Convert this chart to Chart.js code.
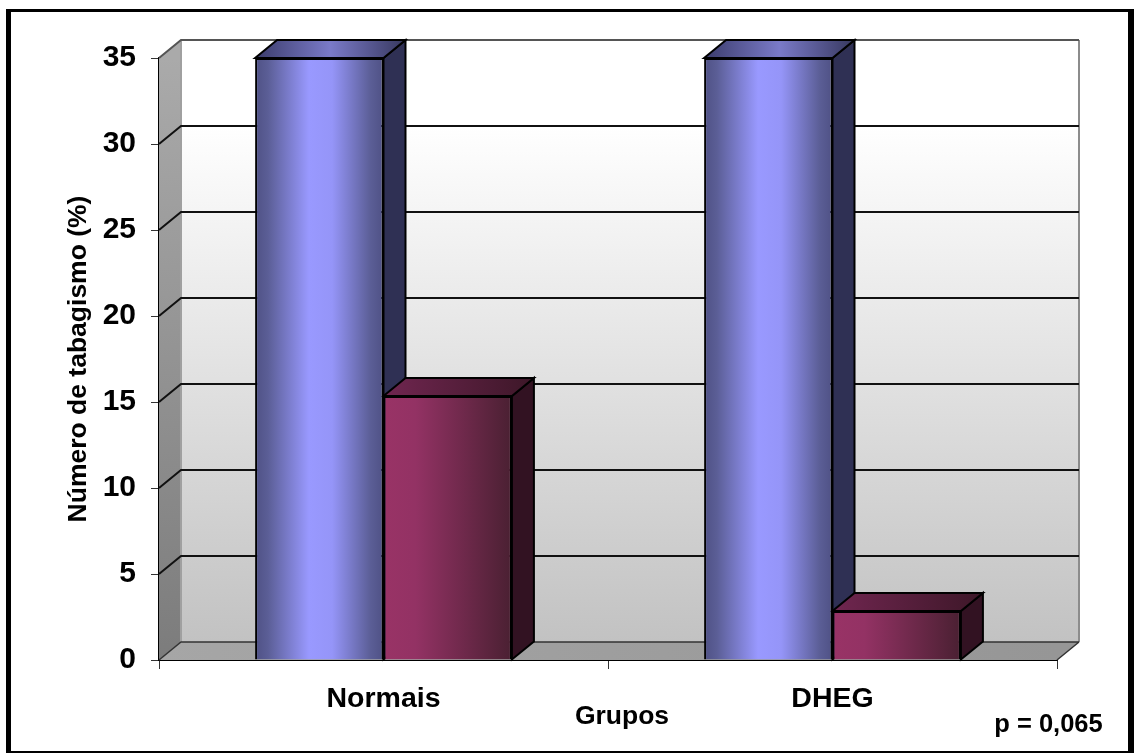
<!DOCTYPE html>
<html>
<head>
<meta charset="utf-8">
<title>Tabagismo</title>
<script src="https://cdn.jsdelivr.net/npm/chart.js@4"></script>
<style>
    body { margin: 0; background: #fff; }
    #wrap { position: relative; width: 1134px; height: 753px; overflow: hidden; }
    canvas { display: block; }
    #frame {
        position: absolute; left: 6px; top: 9px; right: 0; bottom: 0;
        border-style: solid; border-color: #000;
        border-width: 3px 6px 2px 5px;
        pointer-events: none;
    }
</style>
</head>
<body>
<div id="wrap">
    <canvas id="chart" width="1134" height="753"></canvas>
    <div id="frame"></div>
</div>
<script>
const categories = ['Normais', 'DHEG'];
const serie1 = [35, 35];
const serie2 = [15.35, 2.85];
const yTicks = [0, 5, 10, 15, 20, 25, 30, 35];
const yTitle = 'Número de tabagismo (%)';
const xTitle = 'Grupos';
const pText = 'p = 0,065';

const FONT = '"Liberation Sans", Arial, sans-serif';
const catPct = 0.572;
// profondeur du faux effet 3D
const dx = 22;
const dy = 18;

function barEdges(chart, datasetIndex, dataIndex) {
    const x = chart.scales.x;
    const center = x.getPixelForValue(dataIndex);
    const w = x.width / categories.length / 2 * catPct;
    const left = datasetIndex === 0 ? center - w : center;
    return { left: left, right: left + w };
}

function blueFront(ctx) {
    const chart = ctx.chart;
    if (!chart.chartArea) return '#9999ff';
    const e = barEdges(chart, ctx.datasetIndex, ctx.dataIndex);
    const g = chart.ctx.createLinearGradient(e.left, 0, e.right, 0);
    g.addColorStop(0, '#4f5185');
    g.addColorStop(0.1, '#5b5e96');
    g.addColorStop(0.42, '#9999ff');
    g.addColorStop(0.6, '#9595f8');
    g.addColorStop(0.9, '#5b5e96');
    g.addColorStop(1, '#4f5185');
    return g;
}

function redFront(ctx) {
    const chart = ctx.chart;
    if (!chart.chartArea) return '#993366';
    const e = barEdges(chart, ctx.datasetIndex, ctx.dataIndex);
    const g = chart.ctx.createLinearGradient(e.left, 0, e.right, 0);
    g.addColorStop(0, '#993366');
    g.addColorStop(0.25, '#933264');
    g.addColorStop(1, '#4a2032');
    return g;
}

function poly(c, pts, fill, stroke, lw) {
    c.beginPath();
    pts.forEach((p, i) => i ? c.lineTo(p[0], p[1]) : c.moveTo(p[0], p[1]));
    c.closePath();
    if (fill) {
        c.fillStyle = fill;
        c.fill();
    }
    if (stroke) {
        c.strokeStyle = stroke;
        c.lineWidth = lw || 1;
        c.stroke();
    }
}

// murs et sol du graphique, dessinés depuis les échelles
const wallsPlugin = {
    id: 'walls',
    beforeDatasetsDraw(chart) {
        const c = chart.ctx;
        const a = chart.chartArea;
        const y = chart.scales.y;
        c.save();

        const back = c.createLinearGradient(0, a.top - dy, 0, a.bottom - dy);
        back.addColorStop(0, '#ffffff');
        back.addColorStop(0.14, '#ffffff');
        back.addColorStop(1, '#c2c2c2');
        poly(c, [[a.left + dx, a.top - dy], [a.right + dx, a.top - dy], [a.right + dx, a.bottom - dy], [a.left + dx, a.bottom - dy]], back);

        const side = c.createLinearGradient(0, a.top, 0, a.bottom);
        side.addColorStop(0, '#aaaaaa');
        side.addColorStop(1, '#7c7c7c');
        poly(c, [[a.left, a.top], [a.left + dx, a.top - dy], [a.left + dx, a.bottom - dy], [a.left, a.bottom]], side);

        const floor = c.createLinearGradient(a.left, 0, a.right, 0);
        floor.addColorStop(0, '#a6a6a6');
        floor.addColorStop(1, '#969696');
        poly(c, [[a.left, a.bottom], [a.right, a.bottom], [a.right + dx, a.bottom - dy], [a.left + dx, a.bottom - dy]], floor);

        // bord droit et arête du fond
        c.strokeStyle = '#8c8c8c';
        c.lineWidth = 2;
        c.beginPath();
        c.moveTo(a.right + dx, a.top - dy);
        c.lineTo(a.right + dx, a.bottom - dy);
        c.stroke();
        c.strokeStyle = '#a0a0a0';
        c.beginPath();
        c.moveTo(a.left + dx, a.top - dy);
        c.lineTo(a.left + dx, a.bottom - dy);
        c.stroke();

        // lignes de grille
        yTicks.forEach(v => {
            const py = y.getPixelForValue(v);
            c.strokeStyle = v === 35 ? '#555' : '#111';
            c.lineWidth = 2;
            if (v === 0) {
                c.lineWidth = 1.5;
                c.strokeStyle = '#333';
            }
            c.beginPath();
            c.moveTo(a.left, py);
            c.lineTo(a.left + dx, py - dy);
            c.lineTo(a.right + dx, py - dy);
            if (v === 0) c.moveTo(a.right, py), c.lineTo(a.right + dx, py - dy);
            c.stroke();
        });

        // faces supérieures et latérales des barres
        chart.data.datasets.forEach((ds, di) => {
            chart.getDatasetMeta(di).data.forEach((bar, i) => {
                const e = barEdges(chart, di, i);
                const t = bar.y;
                const b = bar.base;
                const top = c.createLinearGradient(e.left, 0, e.right + dx, 0);
                if (di === 0) {
                    top.addColorStop(0, '#3b3c6c');
                    top.addColorStop(0.5, '#7a7ac8');
                    top.addColorStop(1, '#37385f');
                } else {
                    top.addColorStop(0, '#702650');
                    top.addColorStop(1, '#3d1728');
                }
                const sideCol = di === 0 ? '#2f3054' : '#321222';
                poly(c, [[e.right, t], [e.right + dx, t - dy], [e.right + dx, b - dy], [e.right, b]], sideCol, '#000', 2);
                poly(c, [[e.left, t], [e.left + dx, t - dy], [e.right + dx, t - dy], [e.right, t]], top, '#000', 2);
            });
        });
        c.restore();
    },
    afterDraw(chart) {
        const c = chart.ctx;
        c.save();
        c.fillStyle = '#000';
        c.textAlign = 'center';
        c.textBaseline = 'middle';
        c.font = 'bold 26.5px ' + FONT;
        c.fillText(xTitle, 622, 717);
        c.font = 'bold 25.5px ' + FONT;
        c.fillText(pText, 1048.5, 725);
        c.restore();
    }
};

new Chart(document.getElementById('chart').getContext('2d'), {
    type: 'bar',
    plugins: [wallsPlugin],
    data: {
        labels: categories,
        datasets: [
            { label: 'Série 1', data: serie1, backgroundColor: blueFront, borderColor: '#000', borderWidth: 2 },
            { label: 'Série 2', data: serie2, backgroundColor: redFront, borderColor: '#000', borderWidth: 2 }
        ]
    },
    options: {
        responsive: false,
        animation: false,
        layout: { padding: { top: 58, right: 77, left: 0, bottom: 0 } },
        datasets: { bar: { categoryPercentage: catPct, barPercentage: 1 } },
        plugins: { legend: { display: false }, tooltip: { enabled: false } },
        scales: {
            x: {
                afterFit(scale) { scale.height = 93; },
                border: { color: '#000', width: 2 },
                grid: { drawOnChartArea: false, drawTicks: true, tickLength: 9, color: '#333' },
                ticks: { color: '#000', padding: 13, maxRotation: 0, font: { family: FONT, size: 28.5, weight: 'bold' } }
            },
            y: {
                min: 0,
                max: 35,
                afterFit(scale) { scale.width = 159; },
                afterBuildTicks(scale) { scale.ticks = yTicks.map(v => ({ value: v })); },
                border: { color: '#000', width: 2 },
                grid: { drawOnChartArea: false, drawTicks: true, tickLength: 8, color: '#333' },
                ticks: { color: '#000', padding: 15, font: { family: FONT, size: 30, weight: 'bold' } },
                title: {
                    display: true,
                    text: yTitle,
                    color: '#000',
                    padding: { top: 63, bottom: 0 },
                    font: { family: FONT, size: 26.5, weight: 'bold' }
                }
            }
        }
    }
});
</script>
</body>
</html>
